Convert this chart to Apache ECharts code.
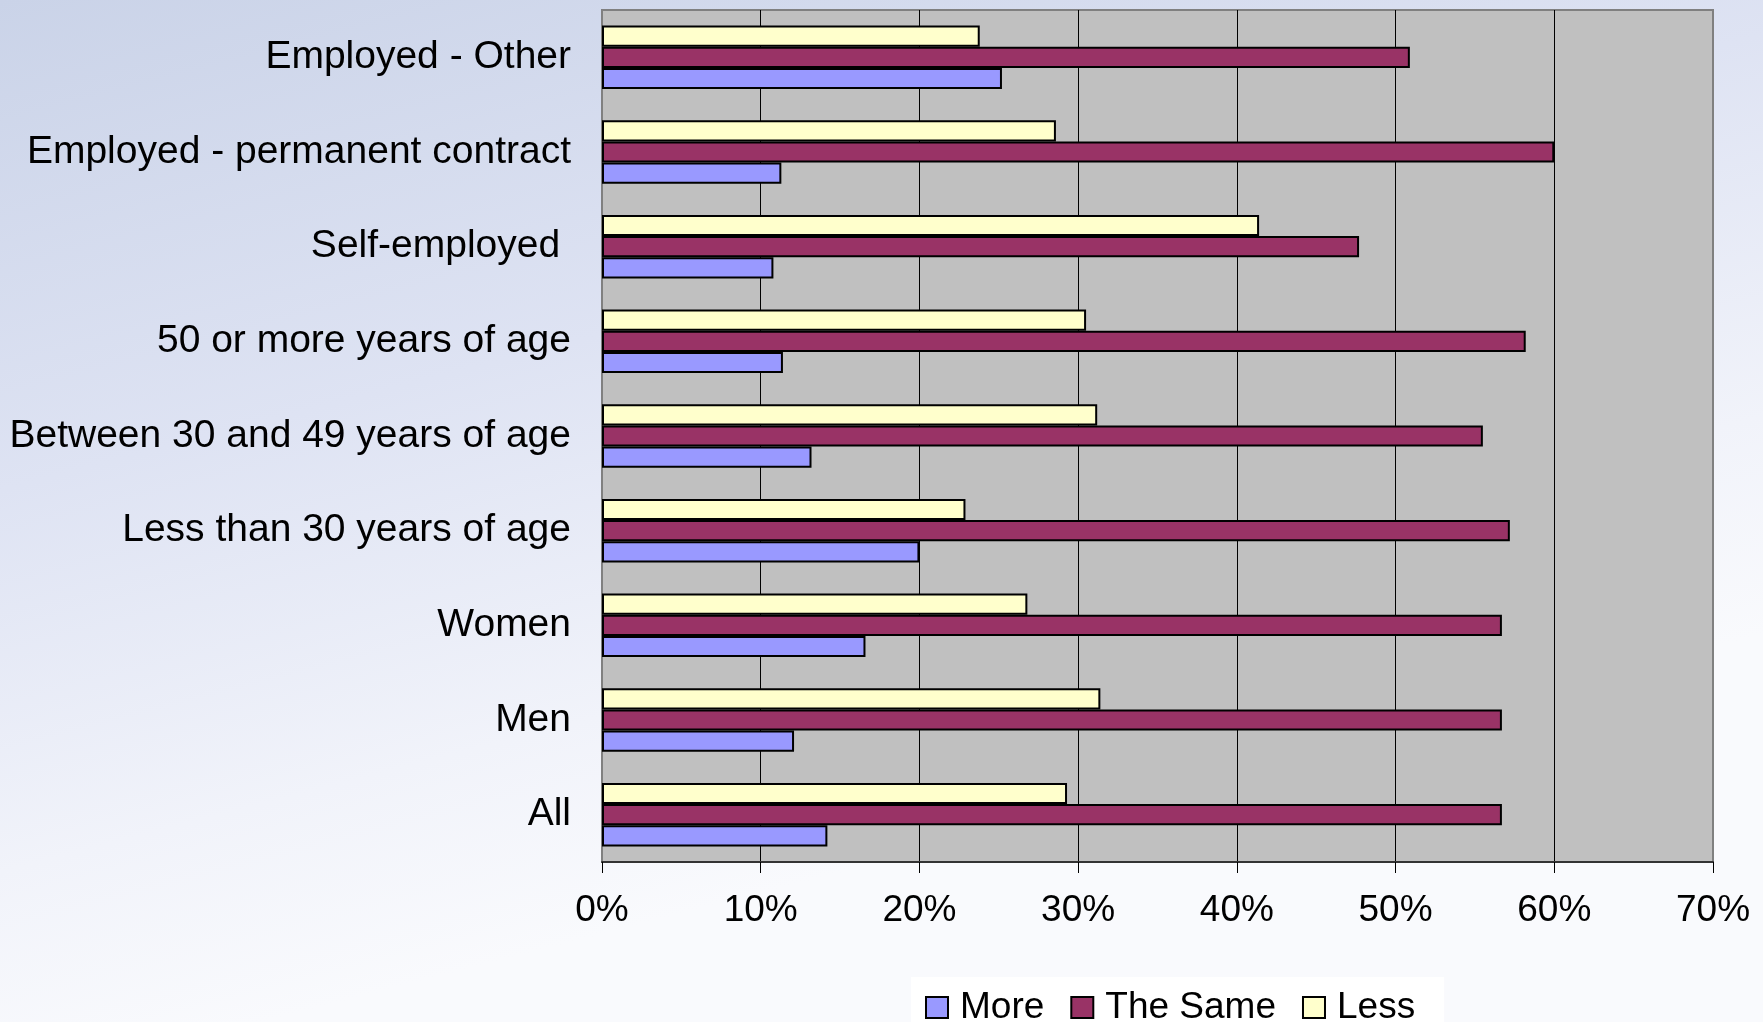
<!DOCTYPE html>
<html>
<head>
<meta charset="utf-8">
<style>
  html, body { margin: 0; padding: 0; width: 1763px; height: 1022px; overflow: hidden; }
  #chart { width: 1763px; height: 1022px; }
</style>
<script src="https://cdn.jsdelivr.net/npm/echarts@6/dist/echarts.min.js"></script>
</head>
<body>
<div id="chart"></div>
<script>
// Groups, listed top to bottom
const categories = [
  'Employed - Other',
  'Employed - permanent contract',
  'Self-employed ',
  '50 or more years of age',
  'Between 30 and 49 years of age',
  'Less than 30 years of age',
  'Women',
  'Men',
  'All'
];

// Shares in percent, same order as categories
const lessValues = [23.8, 28.6, 41.4, 30.5, 31.2, 22.9, 26.8, 31.4, 29.3];
const sameValues = [50.9, 60.0, 47.7, 58.2, 55.5, 57.2, 56.7, 56.7, 56.7];
const moreValues = [25.2, 11.3, 10.8, 11.4, 13.2, 20.0, 16.6, 12.1, 14.2];

const seriesNames = ['More', 'The Same', 'Less'];
const xTicks = [0, 10, 20, 30, 40, 50, 60, 70];

const FONT = "'Liberation Sans', Arial, sans-serif";
const colors = { 'More': '#9999ff', 'The Same': '#993366', 'Less': '#ffffcc' };

const chart = echarts.init(document.getElementById('chart'), null, { renderer: 'canvas' });

function barSeries(name, values) {
  return {
    name: name,
    type: 'bar',
    data: values,
    barGap: '0%',
    barCategoryGap: '33%',
    itemStyle: { color: colors[name], borderColor: '#000', borderWidth: 2 },
    emphasis: { disabled: true }
  };
}

chart.setOption({
  animation: false,
  backgroundColor: {
    type: 'linear', x: 0, y: 0, x2: 0.15, y2: 1,
    colorStops: [
      { offset: 0, color: '#cad3e8' },
      { offset: 0.45, color: '#dee3f3' },
      { offset: 0.8, color: '#f1f3fa' },
      { offset: 1, color: '#f9fafd' }
    ]
  },
  textStyle: { fontFamily: FONT },
  grid: {
    left: 602, right: 50, top: 10, bottom: 160,
    show: true,
    backgroundColor: '#c0c0c0',
    borderColor: '#808080',
    borderWidth: 2,
    containLabel: false
  },
  legend: {
    data: seriesNames,
    icon: 'rect',
    left: 911,
    top: 977,
    padding: [12, 29, 14, 14],
    backgroundColor: '#ffffff',
    itemWidth: 22,
    itemHeight: 21,
    itemGap: 26,
    textStyle: { fontFamily: FONT, fontSize: 37, color: '#000', padding: [0, 0, 0, 7] }
  },
  xAxis: {
    type: 'value',
    min: 0,
    max: 70,
    interval: 10,
    axisLine: { show: true, lineStyle: { color: '#333', width: 2 } },
    axisTick: { show: true, length: 11, lineStyle: { color: '#000', width: 1 } },
    axisLabel: {
      margin: 30,
      fontSize: 37,
      fontFamily: FONT,
      color: '#000',
      formatter: function (v) { return xTicks.indexOf(v) >= 0 ? v + '%' : ''; }
    },
    splitLine: { show: true, showMinLine: false, showMaxLine: false, lineStyle: { color: '#000', width: 1 } }
  },
  yAxis: {
    type: 'category',
    data: categories,
    inverse: true,
    axisLine: { show: false },
    axisTick: { show: false },
    axisLabel: { margin: 31, fontSize: 39, fontFamily: FONT, color: '#000' },
    splitLine: { show: false }
  },
  series: [
    barSeries('Less', lessValues),
    barSeries('The Same', sameValues),
    barSeries('More', moreValues)
  ]
});
</script>
</body>
</html>
